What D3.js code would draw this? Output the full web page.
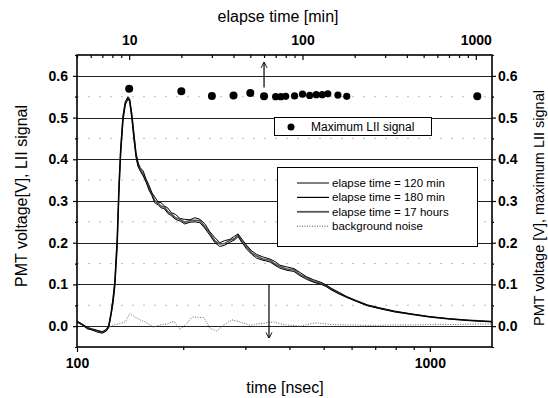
<!DOCTYPE html>
<html><head><meta charset="utf-8">
<script src="https://cdn.jsdelivr.net/npm/d3@7"></script>
<style>body{margin:0;background:#fff}svg{display:block;font-family:"Liberation Sans",Arial,sans-serif}</style>
</head><body><svg id="c" width="548" height="398"></svg>
<script>
// ---- data ----
const timeNs = [100,103,107,110,114,118,121,123,125,126.5,128,130,131.5,133,135,137,139.5,141,143,145,147,149,151,154,157,160,163,166,170,173,177,181,185,190,196,202,209,216,223,230,238,246,254,262,271,280,286,293,303,313,323,336,352,364,376,393,412,428,448,469,492,508,525,550,581,620,665,720,795,894,1000,1137,1295,1500];
const sig120 = [0.012,0.006,-0.003,-0.006,-0.010,-0.013,-0.008,0.002,0.035,0.068,0.110,0.215,0.340,0.430,0.505,0.538,0.550,0.545,0.510,0.462,0.415,0.392,0.380,0.372,0.352,0.338,0.320,0.310,0.297,0.296,0.288,0.283,0.272,0.268,0.258,0.256,0.255,0.260,0.256,0.246,0.226,0.212,0.200,0.205,0.208,0.216,0.221,0.209,0.193,0.180,0.172,0.166,0.161,0.155,0.146,0.142,0.138,0.129,0.118,0.111,0.105,0.099,0.091,0.082,0.071,0.061,0.051,0.044,0.036,0.029,0.023,0.018,0.014,0.011];
const sig180 = [0.010,0.004,-0.006,-0.009,-0.014,-0.017,-0.012,-0.003,0.028,0.055,0.095,0.190,0.320,0.412,0.492,0.530,0.545,0.538,0.498,0.448,0.405,0.382,0.372,0.360,0.345,0.326,0.313,0.296,0.290,0.284,0.281,0.270,0.265,0.256,0.252,0.245,0.249,0.250,0.248,0.235,0.218,0.200,0.191,0.194,0.201,0.207,0.215,0.201,0.184,0.172,0.163,0.158,0.154,0.146,0.139,0.134,0.131,0.121,0.112,0.105,0.100,0.095,0.087,0.078,0.069,0.059,0.049,0.042,0.034,0.028,0.022,0.017,0.013,0.010];
const sig17h = [0.011,0.005,-0.005,-0.008,-0.011,-0.015,-0.010,-0.001,0.031,0.061,0.101,0.202,0.331,0.421,0.499,0.534,0.547,0.541,0.504,0.455,0.410,0.386,0.377,0.364,0.349,0.330,0.318,0.301,0.294,0.288,0.285,0.274,0.269,0.260,0.256,0.249,0.253,0.254,0.253,0.239,0.223,0.204,0.197,0.198,0.206,0.210,0.219,0.204,0.189,0.175,0.168,0.161,0.158,0.149,0.143,0.137,0.135,0.124,0.116,0.107,0.103,0.097,0.089,0.080,0.070,0.060,0.050,0.043,0.035,0.028,0.022,0.017,0.014,0.011];
const noiseTime = [100,103,107,110,114,118,121,124,128,132,137,141,146,151,156,160,165,172,180,188,196,204,212,220,229,238,249,260,275,290,309,324,338,361,388,410,428,450,478,521,560,594,650,720,800,936,1050,1219,1350,1500];
const noiseSig = [0.011,0.005,-0.006,-0.008,-0.012,-0.015,-0.010,-0.002,0.004,0.006,0.010,0.030,0.022,0.015,0.010,0.004,-0.002,0.003,0.005,0.012,-0.008,0.005,0.022,0.021,0.020,-0.005,-0.012,0.002,0.015,0.010,0.002,0.005,0.007,0.010,0.003,0.002,0.000,0.004,0.008,0.004,0.003,0.003,0.002,0.002,0.003,0.003,0.004,0.004,0.005,0.005];
const elapseMin = [10,20,30,40,50,60,70,75,80,90,100,110,120,130,140,160,180,1020];
const maxLII = [0.569,0.563,0.552,0.553,0.559,0.551,0.550,0.550,0.551,0.552,0.556,0.553,0.555,0.555,0.557,0.554,0.551,0.551];
const yTicks = [0.0,0.1,0.2,0.3,0.4,0.5,0.6];
const yMinor = [-0.05,0.05,0.15,0.25,0.35,0.45,0.55,0.65];
const bottomTicks = [100,1000];
const bottomMinor = [200,300,400,500,600,700,800,900];
const topTicks = [10,100,1000];
const topMinor = [5,6,7,8,9,20,30,40,50,60,70,80,90,200,300,400,500,600,700,800,900];
const legendLabels = ["elapse time = 120 min","elapse time = 180 min","elapse time = 17 hours","background noise"];
const arrowUp = {elapse: 60, from: 0.572, to: 0.632};
const arrowDown = {time: 350, from: 0.099, to: -0.028};

// ---- layout ----
const L = 77, R = 492, T = 55, B = 347;
const svg = d3.select("#c");
const y = d3.scaleLinear().domain([-0.05, 0.65]).range([B, T]);
const xB = d3.scaleLog().domain([100, 1500]).range([L, R]);
const xT = d3.scaleLog().domain([5, 1240]).range([L, R]);

svg.append("rect").attr("width",548).attr("height",398).attr("fill","#fff");
svg.append("defs").append("clipPath").attr("id","clip").append("rect")
  .attr("x",L).attr("y",T).attr("width",R-L).attr("height",B-T);

// grid
svg.append("g").selectAll("line").data(yMinor.filter(v=>v>-0.04&&v<0.64)).join("line")
  .attr("x1",L).attr("x2",R).attr("y1",d=>y(d)).attr("y2",d=>y(d))
  .attr("stroke","#bbb").attr("stroke-width",1).attr("stroke-dasharray","2,9");
svg.append("g").selectAll("line").data(yTicks).join("line")
  .attr("x1",L).attr("x2",R).attr("y1",d=>Math.round(y(d))+0.5).attr("y2",d=>Math.round(y(d))+0.5)
  .attr("stroke","#222").attr("stroke-width",1);

// curves
const line = d3.line().x(d=>xB(d[0])).y(d=>y(d[1]));
const gC = svg.append("g").attr("clip-path","url(#clip)");
gC.append("path").attr("d", line(noiseTime.map((t,i)=>[t,noiseSig[i]])))
  .attr("fill","none").attr("stroke","#666").attr("stroke-width",1).attr("stroke-dasharray","1,1.5");
gC.append("path").attr("d", line(timeNs.map((t,i)=>[t,sig17h[i]])))
  .attr("fill","none").attr("stroke","#555").attr("stroke-width",1.6);
gC.append("path").attr("d", line(timeNs.map((t,i)=>[t,sig120[i]])))
  .attr("fill","none").attr("stroke","#000").attr("stroke-width",1);
gC.append("path").attr("d", line(timeNs.map((t,i)=>[t,sig180[i]])))
  .attr("fill","none").attr("stroke","#000").attr("stroke-width",1);

// dots
svg.append("g").selectAll("circle").data(elapseMin).join("circle")
  .attr("cx",(d)=>xT(d)).attr("cy",(d,i)=>y(maxLII[i])).attr("r",(d,i)=>i<6||i==17?4:3.6).attr("fill","#000");

// arrows
const defs = svg.select("defs");
defs.append("marker").attr("id","ah").attr("viewBox","0 0 10 10").attr("refX",9).attr("refY",5)
  .attr("markerWidth",5).attr("markerHeight",6).attr("orient","auto-start-reverse")
  .append("path").attr("d","M0,0 L10,5 L0,10").attr("fill","none").attr("stroke","#000").attr("stroke-width",1.5);
svg.append("line").attr("x1",xT(arrowUp.elapse)).attr("x2",xT(arrowUp.elapse))
  .attr("y1",y(arrowUp.from)).attr("y2",y(arrowUp.to)).attr("stroke","#000").attr("stroke-width",1.2).attr("marker-end","url(#ah)");
svg.append("line").attr("x1",xB(arrowDown.time)).attr("x2",xB(arrowDown.time))
  .attr("y1",y(arrowDown.from)).attr("y2",y(arrowDown.to)).attr("stroke","#000").attr("stroke-width",1.2).attr("marker-end","url(#ah)");

// axes
function style(g){ g.select(".domain").remove(); g.selectAll("line").attr("stroke","#000").attr("stroke-width",1.2);
  g.selectAll("text").attr("fill","#000").attr("font-size",14).attr("font-weight","bold").attr("font-family","Liberation Sans, Arial, sans-serif"); }
svg.append("g").attr("transform",`translate(${L},0)`)
  .call(d3.axisLeft(y).tickValues(yTicks).tickFormat(d3.format(".1f")).tickSize(4).tickPadding(5)).call(style);
svg.append("g").attr("transform",`translate(${L},0)`)
  .call(d3.axisLeft(y).tickValues(yMinor).tickFormat("").tickSize(2)).call(style);
svg.append("g").attr("transform",`translate(${R},0)`)
  .call(d3.axisRight(y).tickValues(yTicks).tickFormat(d3.format(".1f")).tickSize(4).tickPadding(2)).call(style);
svg.append("g").attr("transform",`translate(${R},0)`)
  .call(d3.axisRight(y).tickValues(yMinor).tickFormat("").tickSize(2)).call(style);
svg.append("g").attr("transform",`translate(0,${B})`)
  .call(d3.axisBottom(xB).tickValues(bottomTicks).tickFormat(d3.format("d")).tickSize(5).tickPadding(6)).call(style);
svg.append("g").attr("transform",`translate(0,${B})`)
  .call(d3.axisBottom(xB).tickValues(bottomMinor).tickFormat("").tickSize(3)).call(style);
svg.append("g").attr("transform",`translate(0,${T})`)
  .call(d3.axisTop(xT).tickValues(topTicks).tickFormat(d3.format("d")).tickSizeInner(-5).tickSizeOuter(0).tickPadding(10)).call(style);
svg.append("g").attr("transform",`translate(0,${T})`)
  .call(d3.axisTop(xT).tickValues(topMinor).tickFormat("").tickSizeInner(-3).tickSizeOuter(0)).call(style);

// frame
svg.append("rect").attr("x",L).attr("y",T).attr("width",R-L).attr("height",B-T)
  .attr("fill","none").attr("stroke","#000").attr("stroke-width",1.6);

// titles
svg.append("text").attr("x",278).attr("y",22).attr("text-anchor","middle").attr("font-size",16).text("elapse time [min]");
svg.append("text").attr("x",285).attr("y",393).attr("text-anchor","middle").attr("font-size",16).text("time [nsec]");
svg.append("text").attr("transform","translate(27,196) rotate(-90)").attr("text-anchor","middle").attr("font-size",16).text("PMT voltage[V], LII signal");
svg.append("text").attr("transform","translate(544,208) rotate(-90)").attr("text-anchor","middle").attr("font-size",14.5).text("PMT voltage [V], maximum LII signal");

// legend 1
const l1 = svg.append("g");
l1.append("rect").attr("x",274.5).attr("y",117.5).attr("width",157).attr("height",18).attr("fill","#fff").attr("stroke","#000").attr("stroke-width",1);
l1.append("circle").attr("cx",291).attr("cy",127).attr("r",3.5).attr("fill","#000");
l1.append("text").attr("x",311).attr("y",131).attr("font-size",12).text("Maximum LII signal");

// legend 2
const l2 = svg.append("g");
l2.append("rect").attr("x",277.5).attr("y",167.5).attr("width",200).attr("height",79).attr("fill","#fff").attr("stroke","#000").attr("stroke-width",1);
const lstyles = [{s:"#000",w:1,d:null},{s:"#000",w:1.2,d:null},{s:"#555",w:1.8,d:null},{s:"#555",w:1,d:"1,1.5"}];
legendLabels.forEach((lab,i)=>{
  const yy = 183 + i*14.4;
  l2.append("line").attr("x1",297).attr("x2",329).attr("y1",yy).attr("y2",yy)
    .attr("stroke",lstyles[i].s).attr("stroke-width",lstyles[i].w).attr("stroke-dasharray",lstyles[i].d);
  l2.append("text").attr("x",332).attr("y",yy+4).attr("font-size",11.5).text(lab);
});
</script></body></html>
